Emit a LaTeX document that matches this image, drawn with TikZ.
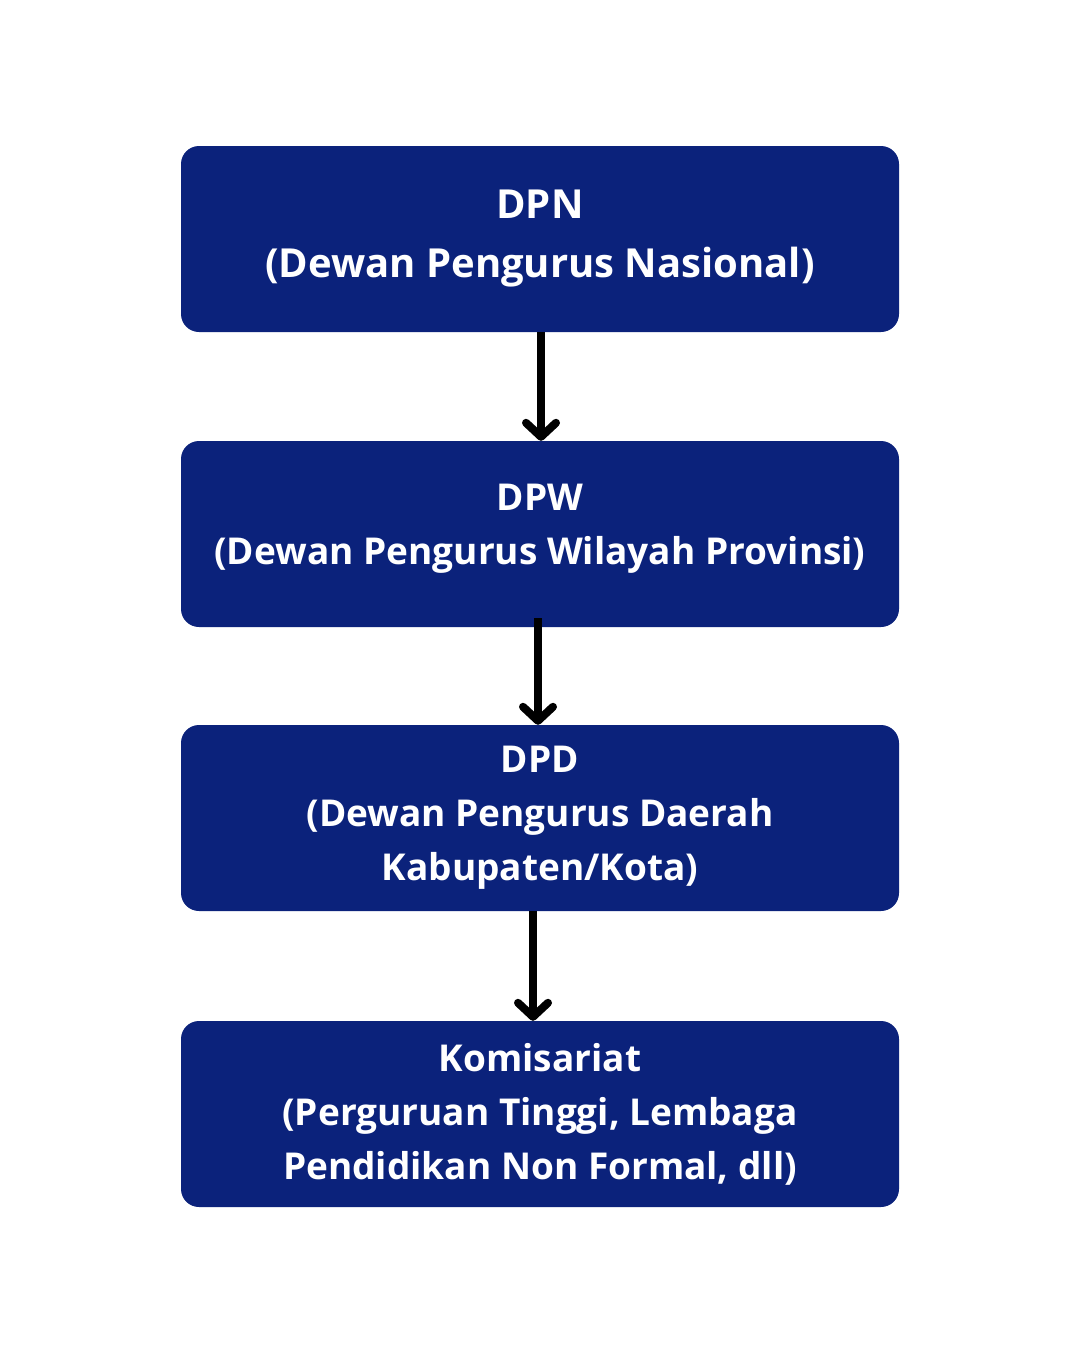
\documentclass[tikz,border=0pt]{standalone}
\usepackage{fontspec}
\setmainfont{Open Sans}
\usetikzlibrary{positioning, arrows.meta}
\definecolor{navy}{HTML}{0B227B}

\begin{document}
\begin{tikzpicture}[x=1pt, y=-1pt, node distance=295pt, on grid,
    level/.style={rectangle, rounded corners=18pt, fill=navy, text=white,
      minimum width=718pt, minimum height=186pt, align=center,
      font=\bfseries\fontsize{37}{54}\selectfont},
    down/.style={line width=8pt, -{Straight Barb[length=14pt, width=30pt, line cap=round, line join=round]}}]
    \useasboundingbox (0,0) rectangle (1080,1350);
		\node[level, font=\bfseries\fontsize{40}{54}\selectfont] (dpn) at (540,239) {DPN\\[5pt](Dewan Pengurus Nasional)};
		\node[level] (dpw) [below=of dpn] {DPW\\(Dewan Pengurus Wilayah Provinsi)\\[-34pt]};
		\node[level] (dpd) [below=284pt of dpw] {DPD\\(Dewan Pengurus Daerah\\Kabupaten/Kota)};
		\node[level] (kom) [below=296pt of dpd] {Komisariat\\(Perguruan Tinggi, Lembaga\\Pendidikan Non Formal, dll)};
		\draw[down] ([xshift=1pt]dpn.south) -- ([xshift=1pt]dpw.north);
		\draw[down] ([xshift=-2pt,yshift=9pt]dpw.south) -- ([xshift=-2pt]dpd.north);
		\draw[down] ([xshift=-7pt]dpd.south) -- ([xshift=-7pt]kom.north);
		\end{tikzpicture}
\end{document}
